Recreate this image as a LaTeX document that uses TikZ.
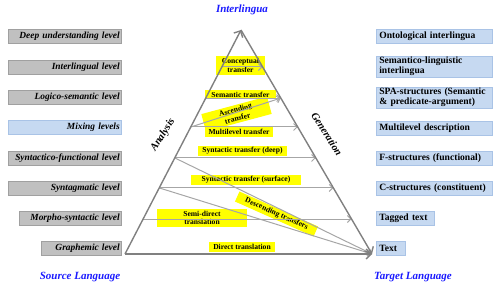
\documentclass[tikz,border=0pt]{standalone}
\usepackage{fontspec}
\setmainfont{Liberation Serif}
\usetikzlibrary{arrows.meta,calc}
\definecolor{lgray}{HTML}{C0C0C0}
\definecolor{lgrayd}{HTML}{A0A0A0}
\definecolor{lblue}{HTML}{C6D9F1}
\definecolor{lblued}{HTML}{A9C3E6}
\definecolor{tblue}{HTML}{1A1AFF}
\definecolor{ylw}{HTML}{FFFF00}
\definecolor{lineg}{HTML}{A6A6A6}
\definecolor{trig}{HTML}{808080}
\begin{document}
\begin{tikzpicture}[x=1pt,y=-1pt,
  lbox/.style={fill=lgray, draw=lgrayd, line width=0.6pt,
    font=\bfseries\itshape\fontsize{9.4}{10}\selectfont, align=right,
    inner xsep=2pt, inner ysep=0pt, minimum height=14pt, anchor=east},
  rbox/.style={fill=lblue, draw=lblued, line width=0.6pt,
    font=\bfseries\fontsize{9.6}{10}\selectfont, align=left,
    inner xsep=3pt, inner ysep=1pt, minimum height=14pt, anchor=west},
  ylab/.style={fill=ylw, font=\bfseries\fontsize{7.6}{8.6}\selectfont,
    inner xsep=1pt, inner ysep=0.5pt, align=center},
  tri/.style={draw=trig, line width=1.4pt, -{Straight Barb[length=5pt,width=10pt]}},
  arr/.style={draw=lineg, line width=1pt, -{Straight Barb[length=3.5pt,width=7pt]}},
  ttl/.style={text=tblue, font=\bfseries\itshape\fontsize{11}{12}\selectfont},
  side/.style={font=\bfseries\itshape\fontsize{10.5}{11}\selectfont, inner sep=0pt},
]
\useasboundingbox (0,0) rectangle (500,288);

% left level boxes
\node[lbox, text width=109pt] (deep) at (122,36) {Deep understanding level};
\node[lbox, text width=109pt] (inter) at (122,67) {Interlingual level};
\node[lbox, text width=109pt] (logico) at (122,97.5) {Logico-semantic level};
\node[lbox, text width=109pt, fill=lblue, draw=lblued] (mix) at (122,127.5) {Mixing levels};
\node[lbox, text width=109pt] (synfun) at (122,158) {Syntactico-functional level};
\node[lbox, text width=109pt] (syntag) at (122,188) {Syntagmatic level};
\node[lbox, text width=98pt] (morpho) at (122,218.5) {Morpho-syntactic level};
\node[lbox, text width=76pt] (graph) at (122,248) {Graphemic level};

% right description boxes
\node[rbox, text width=110pt] (onto) at (376,36) {Ontological interlingua};
\node[rbox, text width=110pt] (semling) at (376,66.5) {Semantico-linguistic\\interlingua};
\node[rbox, text width=110pt] (spa) at (376,97.5) {SPA-structures (Semantic\\\& predicate-argument)};
\node[rbox, text width=110pt] (multi) at (376,128) {Multilevel description};
\node[rbox, text width=110pt] (fstr) at (376,158) {F-structures (functional)};
\node[rbox, text width=110pt] (cstr) at (376,188) {C-structures (constituent)};
\node[rbox, text width=52pt] (tagged) at (376,218.5) {Tagged text};
\node[rbox, text width=23pt] (text) at (376,248.5) {Text};

% titles
\node[ttl] (interlingua) at (242,10) {Interlingua};
\node[ttl] (source) at (80,277) {Source Language};
\node[ttl] (target) at (413,277) {Target Language};

% triangle corners and level points
\coordinate (A) at (125,254);
\coordinate (T) at (241,30);
\coordinate (B) at (372,254);
\coordinate (l2) at ($(A)!0.835!(T)$);
\coordinate (r2) at ($(T)!0.165!(B)$);
\coordinate (l3) at ($(A)!0.696!(T)$);
\coordinate (r3) at ($(T)!0.304!(B)$);
\coordinate (l4) at ($(A)!0.567!(T)$);
\coordinate (r4) at ($(T)!0.433!(B)$);
\coordinate (l5) at ($(A)!0.429!(T)$);
\coordinate (r5) at ($(T)!0.571!(B)$);
\coordinate (l6) at ($(A)!0.295!(T)$);
\coordinate (r6) at ($(T)!0.705!(B)$);
\coordinate (l7) at ($(A)!0.156!(T)$);
\coordinate (r7) at ($(T)!0.844!(B)$);

% yellow labels
\node[ylab, minimum width=49pt, minimum height=19pt] (concept) at (240.5,65.5) {Conceptual\\transfer};
\node[ylab, minimum width=71pt, minimum height=9pt] (semtr) at (240.5,94.5) {Semantic transfer};
\node[ylab, minimum width=68pt, minimum height=18pt, rotate=15] (asc) at (236.5,114) {Ascending\\transfer};
\node[ylab, minimum width=68pt, minimum height=11pt] (multr) at (239,132) {Multilevel transfer};
\node[ylab, minimum width=89pt, minimum height=10pt] (syndeep) at (242.5,151) {Syntactic transfer (deep)};
\node[ylab, minimum width=110pt, minimum height=10pt] (synsurf) at (246,180) {Syntactic transfer (surface)};
\node[ylab, minimum width=86pt, minimum height=11pt, rotate=-24] (desc) at (276.5,214) {Descending transfers};
\node[ylab, minimum width=90pt, minimum height=18pt] (semidir) at (202,218) {Semi-direct\\translation};
\node[ylab, minimum width=66pt, minimum height=10pt] (direct) at (242,247) {Direct translation};

% transfer arrows
\draw[arr] (l2) -- (r2);
\draw[arr] (l3) -- (r3);
\draw[arr] (l4) -- (r3);
\draw[arr] (l4) -- (r4);
\draw[arr] (l5) -- (r5);
\draw[arr] (l6) -- (r6);
\draw[arr] (l7) -- (r7);
\draw[arr] (l5) -- (B);
\draw[arr] (l6) -- (B);

% triangle
\draw[tri] (A) -- (T);
\draw[tri] (T) -- (B);
\draw[tri] (A) -- (B);

% side labels
\node[side, rotate=58] (analysis) at (163,135) {Analysis};
\node[side, rotate=-58] (generation) at (327,134) {Generation};
\end{tikzpicture}
\end{document}
